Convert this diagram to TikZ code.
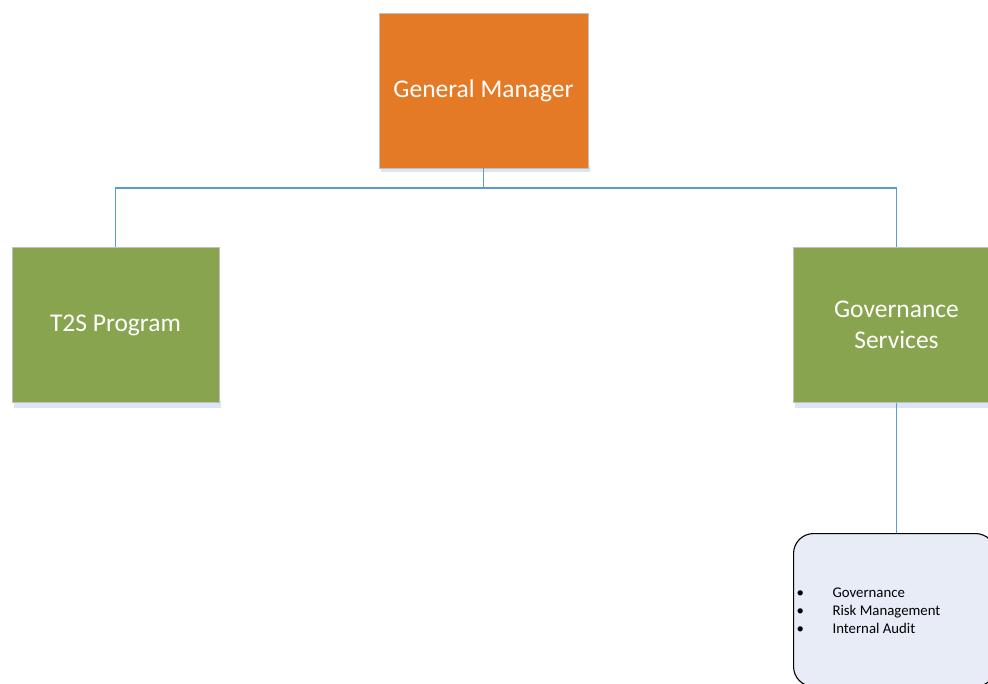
\documentclass[tikz,border=0pt]{standalone}
\usepackage{fontspec}
\setmainfont{Carlito}
\usetikzlibrary{positioning}

\definecolor{gmorange}{HTML}{E47A25}
\definecolor{unitgreen}{HTML}{89A44F}
\definecolor{linkblue}{HTML}{5B9BD5}
\definecolor{listfill}{HTML}{E7ECF7}
\definecolor{shadowblue}{HTML}{DCE6F2}

\tikzset{
  unitbox/.style={draw=black!25, line width=0.8pt, text=white,
    minimum width=207pt, minimum height=155pt, align=center,
    font=\fontsize{25.5}{31}\selectfont, inner sep=0pt},
  unitshadow/.style={fill=shadowblue, draw=none},
  link/.style={draw=linkblue, line width=1.8pt},
  listbox/.style={draw=black, line width=1.1pt, fill=listfill,
    rounded corners=20pt, minimum width=202pt, minimum height=153pt,
    anchor=north west, inner sep=0pt}
}

\begin{document}
\begin{tikzpicture}[x=1pt,y=-1pt]
  \useasboundingbox (0,0) rectangle (988,684);
  \clip (0,0) rectangle (988,684);

  % shadows under the boxes
  \fill[unitshadow] (381,166) rectangle (590,172);
  \fill[unitshadow] (14,401) rectangle (221,408);
  \fill[unitshadow] (795,401) rectangle (1002,408);

  \node[unitbox, fill=gmorange, minimum width=209pt] (gm) at (483.5,90.5) {General Manager};
  \node[unitbox, fill=unitgreen] (t2s) at (115.5,325) {T2S Program};
  \node[unitbox, fill=unitgreen] (gov) at (896.5,325) {Governance\\Services};

  \node[listbox] (govlist) at (793,533) {};
  \node[font=\fontsize{14.8}{18}\selectfont, anchor=west, align=left] (items)
    at (793,611) {%
      \makebox[36pt][l]{\textbullet}Governance\\
      \makebox[36pt][l]{\textbullet}Risk Management\\
      \makebox[36pt][l]{\textbullet}Internal Audit};

  % reporting lines
  \draw[link] (gm.south) -- ++(0,20) -| (t2s.north);
  \draw[link] (gm.south) -- ++(0,20) -| (gov.north);
  \draw[link] (gov.south) -- (govlist.north -| gov.south);
\end{tikzpicture}
\end{document}
